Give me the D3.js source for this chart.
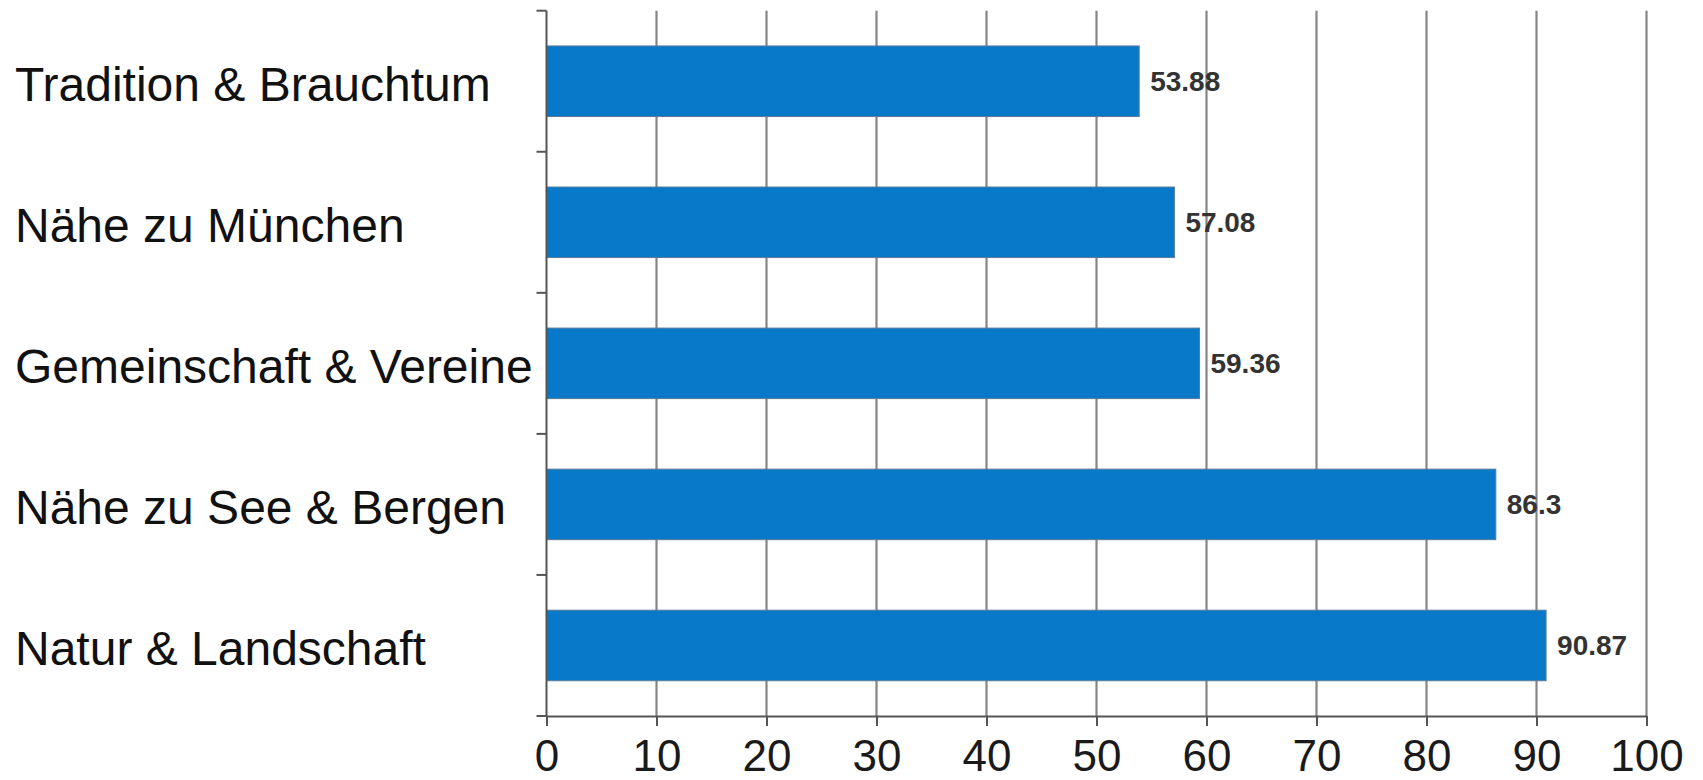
<!DOCTYPE html>
<html><head><meta charset="utf-8">
<script src="https://cdn.jsdelivr.net/npm/d3@7"></script>
<style>html,body{margin:0;padding:0;background:#fff;}svg{display:block;}</style>
</head><body>
<svg id="c" width="1703" height="780"></svg>
<script>
const categories = ["Tradition & Brauchtum","Nähe zu München","Gemeinschaft & Vereine","Nähe zu See & Bergen","Natur & Landschaft"];
const values = [53.88, 57.08, 59.36, 86.3, 90.87];
const valueLabels = ["53.88","57.08","59.36","86.3","90.87"];
const xTicks = [0,10,20,30,40,50,60,70,80,90,100];

const svg = d3.select("#c");
const x = d3.scaleLinear().domain([0,100]).range([546.5,1646.5]);
const y = d3.scaleBand().domain(categories).range([10.7,716]).paddingInner(0.5).paddingOuter(0.25);
const font = "'Liberation Sans', Arial, sans-serif";

// gridlines
svg.append("g").selectAll("line").data(xTicks.filter(d=>d>0)).join("line")
  .attr("x1",d=>x(d)).attr("x2",d=>x(d)).attr("y1",10.7).attr("y2",716)
  .attr("stroke","#858585").attr("stroke-width",2.2);

// bars
svg.append("g").selectAll("rect").data(categories).join("rect")
  .attr("x",x(0)).attr("y",d=>y(d))
  .attr("width",(d,i)=>x(values[i])-x(0)).attr("height",y.bandwidth())
  .attr("fill","#0879c8").attr("stroke","#5a7a98").attr("stroke-width",1);

// x axis
const xAxis = svg.append("g").attr("transform","translate(0,716)")
  .call(d3.axisBottom(x).tickValues(xTicks).tickSize(10).tickSizeOuter(0).tickPadding(14));
xAxis.select(".domain").attr("stroke","#555").attr("stroke-width",2);
xAxis.selectAll(".tick line").attr("stroke","#555").attr("stroke-width",2);
xAxis.selectAll(".tick text").attr("font-family",font).attr("font-size",44).attr("fill","#1a1a1a").attr("dy","0.71em");

// left axis line and ticks at band boundaries
const bounds = categories.map(c=>y(c)-y.step()*y.paddingInner()/2).concat([716]);
svg.append("line").attr("x1",x(0)).attr("x2",x(0)).attr("y1",10.7).attr("y2",716)
  .attr("stroke","#555").attr("stroke-width",2);
svg.append("g").selectAll("line").data(bounds).join("line")
  .attr("x1",x(0)-10).attr("x2",x(0)).attr("y1",d=>d).attr("y2",d=>d)
  .attr("stroke","#555").attr("stroke-width",2);

// category labels
svg.append("g").selectAll("text").data(categories).join("text")
  .attr("x",15).attr("y",d=>y(d)+y.bandwidth()/2+20)
  .attr("font-family",font).attr("font-size",48).attr("fill","#111")
  .text(d=>d);

// value labels
svg.append("g").selectAll("text").data(categories).join("text")
  .attr("x",(d,i)=>x(values[i])+11).attr("y",d=>y(d)+y.bandwidth()/2+10)
  .attr("font-family",font).attr("font-size",28).attr("font-weight","bold").attr("fill","#333")
  .text((d,i)=>valueLabels[i]);
</script>
</body></html>
